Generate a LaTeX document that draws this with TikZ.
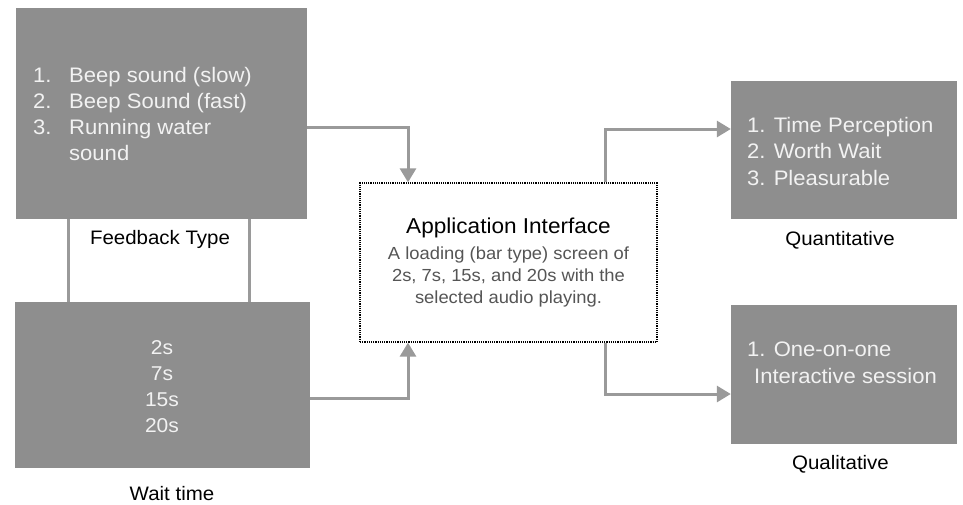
\documentclass[tikz,border=0pt]{standalone}
\usepackage{fontspec}
\setmainfont{Liberation Sans}[FakeStretch=1.05]
\usetikzlibrary{arrows.meta}
\definecolor{boxgray}{HTML}{8E8E8E}
\definecolor{linegray}{HTML}{9A9A9A}
\definecolor{intext}{HTML}{F2F2F2}
\definecolor{bodygray}{HTML}{555555}
\tikzset{
  graybox/.style={draw=none, fill=boxgray, inner sep=0pt},
  intxt/.style={text=intext, inner sep=0pt, align=left},
  lbl/.style={text=black, inner sep=0pt, font=\fontsize{19.5}{22}\selectfont},
  conn/.style={draw=linegray, line width=3pt},
  arr/.style={conn, -{Triangle[length=14pt,width=16pt]}},
}
\begin{document}
\begin{tikzpicture}[x=1pt,y=-1pt]
\useasboundingbox (0,0) rectangle (963,504);
% boxes
\node[graybox, minimum width=291pt, minimum height=211pt] (fb) at (161.5,113.5) {};
\node[graybox, minimum width=295pt, minimum height=166pt] (wait) at (162.5,385) {};
\node[draw=black, fill=white, line width=1.3pt, dash pattern=on 1.2pt off 1pt,
      minimum width=297pt, minimum height=159pt, inner sep=0pt] (app) at (508.5,262.5) {};
\node[graybox, minimum width=226pt, minimum height=138pt] (quant) at (844,150) {};
\node[graybox, minimum width=226pt, minimum height=139pt] (qual) at (844,374.5) {};
% texts
\node[intxt, anchor=west, font=\fontsize{21}{26}\selectfont] (fbtext) at (33,114)
  {\makebox[36pt][l]{1.}Beep sound (slow)\\
   \makebox[36pt][l]{2.}Beep Sound (fast)\\
   \makebox[36pt][l]{3.}Running water\\
   \hspace*{36pt}sound};
\node[intxt, align=center, font=\fontsize{20}{26}\selectfont] (waittext) at (162,386.5)
  {2s\\7s\\15s\\20s};
\node[inner sep=0pt, font=\fontsize{21.5}{24}\selectfont] (apptitle) at (508.5,228) {Application Interface};
\node[inner sep=0pt, align=center, text=bodygray, font=\fontsize{17.5}{22}\selectfont] (appbody) at (508.5,277)
  {A loading (bar type) screen of\\2s, 7s, 15s, and 20s with the\\selected audio playing.};
\node[intxt, anchor=west, font=\fontsize{21}{26.5}\selectfont] (quanttext) at (747,151)
  {1. Time Perception\\2. Worth Wait\\3. Pleasurable};
\node[intxt, anchor=west, font=\fontsize{21}{27}\selectfont] (qualtext) at (747,363)
  {1. One-on-one\\\hspace*{7pt}Interactive session};
% labels
\node[lbl] (fblbl) at (160,239) {Feedback Type};
\node[lbl] (waitlbl) at (172,494) {Wait time};
\node[lbl] (quantlbl) at (840,240) {Quantitative};
\node[lbl] (quallbl) at (840.5,464) {Qualitative};
% connectors
\draw[conn] (fb.south -| 68,0) -- (wait.north -| 68,0);
\draw[conn] (fb.south -| 249,0) -- (wait.north -| 249,0);
\draw[arr] (fb.east |- 0,127) -| (app.north -| 408,0);
\draw[arr] (wait.east |- 0,398) -| (app.south -| 408,0);
\draw[arr] (app.north -| 605,0) |- (quant.west |- 0,129);
\draw[arr] (app.south -| 605,0) |- (qual.west |- 0,394);
\end{tikzpicture}
\end{document}
